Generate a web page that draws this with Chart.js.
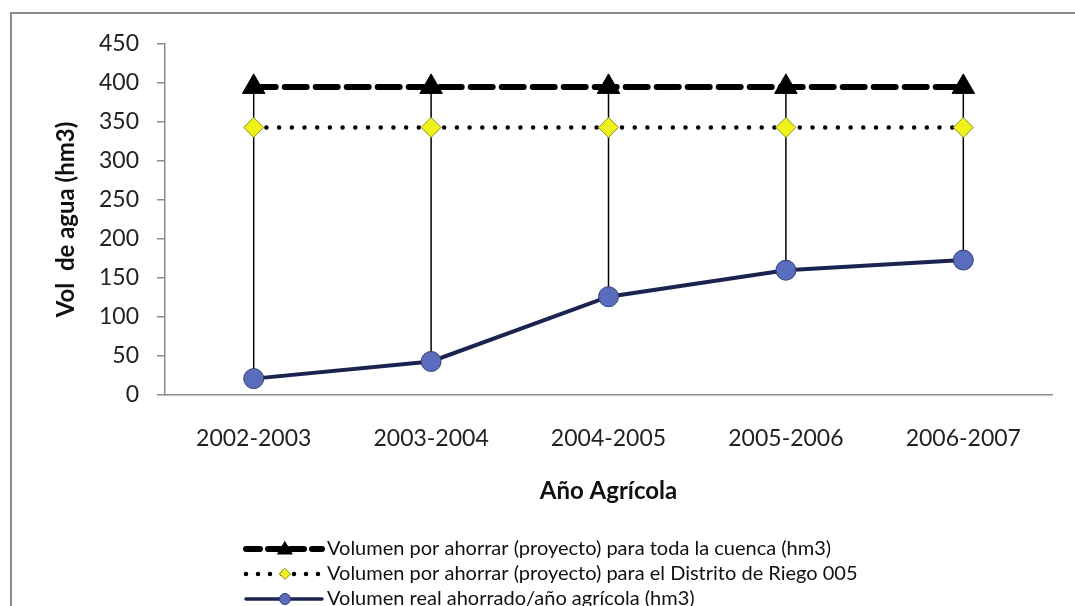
<!DOCTYPE html>
<html>
<head>
<meta charset="utf-8">
<script src="https://cdn.jsdelivr.net/npm/chart.js@4.4.1/dist/chart.umd.min.js"></script>
<style>
    html, body { margin: 0; padding: 0; background: #fff; }
    #wrap { position: relative; width: 1075px; height: 606px; }
    #frame { position: absolute; left: 10px; top: 12px; right: -5px; bottom: -5px; border: 2px solid #8c8c8c; }
</style>
</head>
<body>
<div id="wrap">
    <div id="frame"></div>
    <canvas id="aguaChart" width="1075" height="606"></canvas>
</div>
<script>
// Data
const anios = ['2002-2003', '2003-2004', '2004-2005', '2005-2006', '2006-2007'];
const volCuenca = [395, 395, 395, 395, 395];
const volDistrito = [343, 343, 343, 343, 343];
const volReal = [21, 43, 126, 160, 173];
const yTicks = [0, 50, 100, 150, 200, 250, 300, 350, 400, 450];

const labelCuenca = 'Volumen por ahorrar (proyecto) para toda la cuenca (hm3)';
const labelDistrito = 'Volumen por ahorrar (proyecto) para el Distrito de Riego 005';
const labelReal = 'Volumen real ahorrado/año agrícola (hm3)';

const fontFam = 'Lato, "Open Sans", sans-serif';

// High-low lines from the top series down to the real volume
const dropLines = {
    id: 'dropLines',
    beforeDatasetsDraw(chart) {
        const top = chart.getDatasetMeta(0).data;
        const low = chart.getDatasetMeta(2).data;
        const ctx = chart.ctx;
        ctx.save();
        ctx.strokeStyle = '#000';
        ctx.lineWidth = 1.5;
        top.forEach((pt, i) => {
            if (!low[i]) return;
            ctx.beginPath();
            ctx.moveTo(pt.x, pt.y);
            ctx.lineTo(low[i].x, low[i].y);
            ctx.stroke();
        });
        ctx.restore();
    }
};

// Legend drawn as stacked rows with line + marker samples
const stackedLegend = {
    id: 'stackedLegend',
    afterDraw(chart) {
        const ctx = chart.ctx;
        const x0 = 246, x1 = 322, xm = 285, xt = 327;
        const rows = [549, 574, 599];
        chart.data.datasets.forEach((ds, i) => {
            const y = rows[i];
            ctx.save();
            ctx.strokeStyle = ds.borderColor;
            ctx.lineWidth = ds.legendWidth || ds.borderWidth;
            ctx.lineCap = ds.borderCapStyle || 'butt';
            ctx.setLineDash(ds.legendDash || []);
            ctx.beginPath();
            ctx.moveTo(x0, y);
            ctx.lineTo(x1, y);
            ctx.stroke();
            ctx.setLineDash([]);
            ctx.fillStyle = ds.pointBackgroundColor;
            ctx.strokeStyle = ds.pointBorderColor;
            ctx.lineWidth = 1;
            const r = ds.pointRadius * 0.55;
            ctx.beginPath();
            if (ds.pointStyle === 'triangle') {
                ctx.moveTo(xm, y - r);
                ctx.lineTo(xm + r, y + r * 0.7);
                ctx.lineTo(xm - r, y + r * 0.7);
                ctx.closePath();
            } else if (ds.pointStyle === 'rectRot') {
                ctx.moveTo(xm, y - r);
                ctx.lineTo(xm + r, y);
                ctx.lineTo(xm, y + r);
                ctx.lineTo(xm - r, y);
                ctx.closePath();
            } else {
                ctx.arc(xm, y, r, 0, Math.PI * 2);
            }
            ctx.fill();
            ctx.stroke();
            ctx.fillStyle = '#111';
            ctx.font = '20px ' + fontFam;
            ctx.textBaseline = 'middle';
            ctx.textAlign = 'left';
            ctx.fillText(ds.label, xt, y);
            ctx.restore();
        });
    }
};

const ctx = document.getElementById('aguaChart');
new Chart(ctx, {
    type: 'line',
    data: {
        labels: anios,
        datasets: [{
            label: labelCuenca,
            data: volCuenca,
            borderColor: '#000',
            borderWidth: 6,
            borderDash: [22, 9],
            legendDash: [14, 8],
            borderCapStyle: 'round',
            pointStyle: 'triangle',
            pointRadius: 13,
            pointBackgroundColor: '#000',
            pointBorderColor: '#000',
            pointBorderWidth: 1,
            tension: 0
        }, {
            label: labelDistrito,
            data: volDistrito,
            borderColor: '#000',
            borderWidth: 4.5,
            borderDash: [0, 12.7],
            legendDash: [0, 12],
            borderCapStyle: 'round',
            pointStyle: 'rectRot',
            pointRadius: 10,
            pointBackgroundColor: '#eef21c',
            pointBorderColor: '#8d8f1a',
            pointBorderWidth: 1,
            tension: 0
        }, {
            label: labelReal,
            data: volReal,
            borderColor: '#1b2350',
            borderWidth: 4,
            legendWidth: 3.5,
            borderCapStyle: 'round',
            pointStyle: 'circle',
            pointRadius: 10,
            pointBackgroundColor: '#5a6cbd',
            pointBorderColor: '#34406f',
            pointBorderWidth: 1,
            tension: 0
        }]
    },
    options: {
        responsive: false,
        animation: false,
        layout: { padding: { left: 0, top: 44, right: 23, bottom: 86 } },
        plugins: {
            legend: { display: false },
            tooltip: { enabled: false }
        },
        scales: {
            x: {
                offset: true,
                grid: { display: false, drawTicks: false },
                border: { display: true, color: '#8c8c8c', width: 1.5 },
                ticks: {
                    padding: 30,
                    color: '#222',
                    font: { family: fontFam, size: 23 }
                },
                title: {
                    display: true,
                    text: 'Año Agrícola',
                    color: '#111',
                    font: { family: fontFam, size: 24, weight: 'bold' },
                    padding: { top: 0, bottom: 14 }
                },
                afterFit(scale) { scale.height = 125; }
            },
            y: {
                min: 0,
                max: 450,
                afterBuildTicks(scale) {
                    scale.ticks = yTicks.map(v => ({ value: v }));
                },
                grid: {
                    display: true,
                    drawOnChartArea: false,
                    drawTicks: true,
                    tickLength: 8,
                    color: '#8c8c8c',
                    lineWidth: 1.5
                },
                border: { display: true, color: '#8c8c8c', width: 1.5 },
                ticks: {
                    padding: 18,
                    color: '#222',
                    font: { family: fontFam, size: 23 }
                },
                title: {
                    display: true,
                    text: 'Vol  de agua (hm3)',
                    color: '#111',
                    font: { family: fontFam, size: 24, weight: 'bold' },
                    padding: { top: 52, bottom: 0 }
                },
                afterFit(scale) { scale.width = 165; }
            }
        }
    },
    plugins: [dropLines, stackedLegend]
});
</script>
</body>
</html>
